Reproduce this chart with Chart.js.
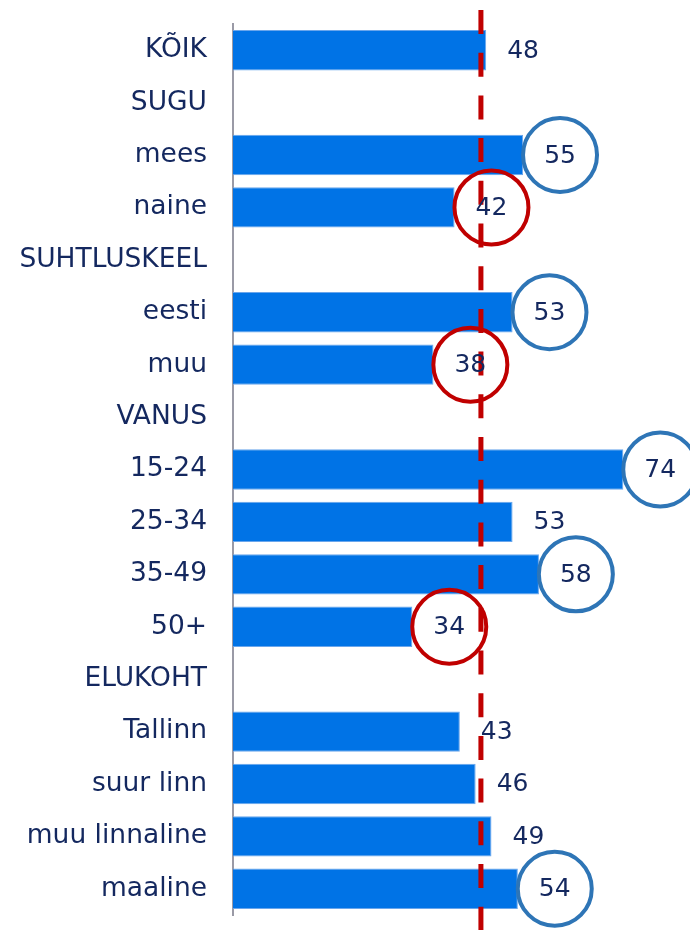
<!DOCTYPE html>
<html>
<head>
<meta charset="utf-8">
<script src="https://cdn.jsdelivr.net/npm/chart.js@4"></script>
<style>
  body { margin: 0; background: #fff; }
  #wrap { width: 690px; height: 930px; }
</style>
</head>
<body>
<div id="wrap"><canvas id="groupChart" width="690" height="930"></canvas></div>
<script>
// Data
var categories = ['KÕIK', 'SUGU', 'mees', 'naine', 'SUHTLUSKEEL', 'eesti', 'muu', 'VANUS',
    '15-24', '25-34', '35-49', '50+', 'ELUKOHT', 'Tallinn', 'suur linn', 'muu linnaline', 'maaline'];
var values = [48, null, 55, 42, null, 53, 38, null, 74, 53, 58, 34, null, 43, 46, 49, 54];
// circled values: 1 = above average (blue), -1 = below (red), 0 = none
var marks = [0, 0, 1, -1, 0, 1, -1, 0, 1, 0, 1, -1, 0, 0, 0, 0, 1];
var averageLine = 47;

var textColor = '#14285f';

// Value labels, circles and average line
var overlayPlugin = {
    id: 'overlay',
    afterDatasetsDraw: function (chart) {
        var ctx = chart.ctx;
        var xs = chart.scales.x;
        var ys = chart.scales.y;

        // dashed average line
        var lx = xs.getPixelForValue(averageLine);
        ctx.save();
        ctx.strokeStyle = '#c00000';
        ctx.lineWidth = 5;
        ctx.setLineDash([24, 18.7]);
        ctx.beginPath();
        ctx.moveTo(lx, 10);
        ctx.lineTo(lx, chart.height);
        ctx.stroke();
        ctx.restore();

        ctx.save();
        ctx.font = '25px "DejaVu Sans"';
        ctx.textAlign = 'left';
        ctx.textBaseline = 'middle';
        values.forEach(function (v, i) {
            if (v === null) return;
            var x = xs.getPixelForValue(v) + 21;
            var y = ys.getPixelForValue(i);
            var label = String(v);
            ctx.fillStyle = textColor;
            ctx.fillText(label, x, y + 1);
            if (marks[i] !== 0) {
                var w = ctx.measureText(label).width;
                ctx.beginPath();
                ctx.strokeStyle = marks[i] > 0 ? '#2e75b6' : '#c00000';
                ctx.lineWidth = 4;
                ctx.arc(x + w / 2, y, 37, 0, Math.PI * 2);
                ctx.stroke();
            }
        });
        ctx.restore();
    }
};

var ctx1 = document.getElementById('groupChart').getContext('2d');
var groupChart = new Chart(ctx1, {
    type: 'bar',
    data: {
        labels: categories,
        datasets: [{
            data: values,
            backgroundColor: '#0073e6',
            borderColor: '#6aa6ec',
            borderWidth: 1,
            categoryPercentage: 1,
            barPercentage: 0.77
        }]
    },
    options: {
        indexAxis: 'y',
        responsive: false,
        animation: false,
        layout: {
            padding: { top: 24, bottom: 15, right: 35, left: 0 }
        },
        scales: {
            x: {
                display: false,
                min: 0,
                max: 80
            },
            y: {
                afterFit: function (scale) {
                    scale.width = 233;
                    scale.paddingTop = 0;
                    scale.paddingBottom = 0;
                },
                grid: { display: false, drawTicks: false },
                border: { display: true, color: '#9a9aa6', width: 2 },
                ticks: {
                    autoSkip: false,
                    padding: 26,
                    color: textColor,
                    font: { family: 'DejaVu Sans', size: 26.5 }
                }
            }
        },
        plugins: {
            legend: { display: false },
            tooltip: { enabled: false }
        }
    },
    plugins: [overlayPlugin]
});
</script>
</body>
</html>
